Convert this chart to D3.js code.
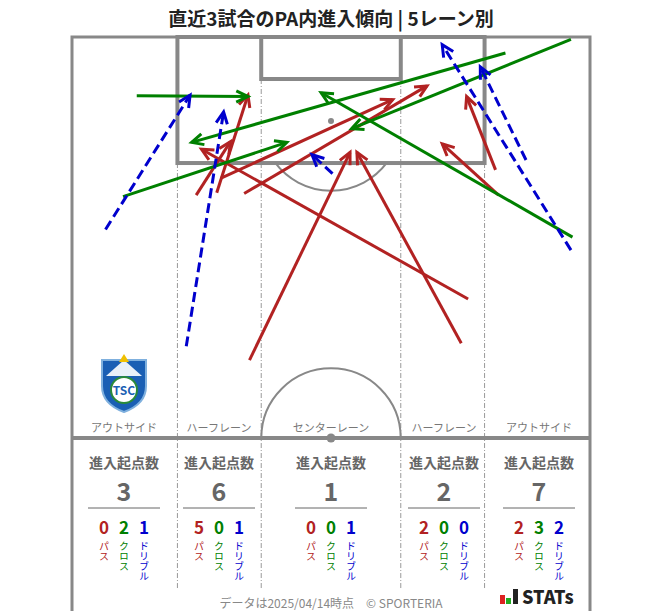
<!DOCTYPE html>
<html><head><meta charset="utf-8">
<script src="https://cdn.jsdelivr.net/npm/d3@7"></script>
<style>body{margin:0;background:#fff}text{font-family:"Noto Sans CJK JP","Noto Sans",sans-serif}</style>
</head><body><svg id="chart" width="663" height="611"></svg>
<script>
// pitch coords in metres: x across (0-68), y from goal line (0-52.5)
var lanes = ['アウトサイド', 'ハーフレーン', 'センターレーン', 'ハーフレーン', 'アウトサイド'];
var laneTotals = [3, 6, 1, 2, 7];
var passCounts = [0, 5, 0, 2, 2];
var crossCounts = [2, 0, 0, 0, 3];
var dribbleCounts = [1, 1, 1, 0, 2];

var passes = [
    [16.3, 20.7, 20.8, 13.7], [19.0, 20.4, 23.1, 7.6], [19.5, 18.5, 42.1, 8.2],
    [22.6, 20.5, 46.6, 6.4], [52.0, 34.3, 17.0, 14.7], [23.3, 42.3, 36.5, 15.1],
    [51.1, 40.1, 37.4, 15.1], [56.0, 20.7, 48.6, 14.0], [55.6, 17.4, 51.8, 7.8]
];
var crosses = [
    [8.5, 7.7, 23.1, 7.8], [56.9, 2.1, 15.7, 13.8], [6.7, 20.9, 28.2, 13.8],
    [65.5, 0.3, 36.7, 12.0], [65.7, 26.2, 32.7, 7.3]
];
var dribbles = [
    [4.4, 25.2, 15.5, 7.6], [15.0, 40.5, 19.9, 9.8], [34.2, 17.9, 31.5, 15.4],
    [59.6, 16.1, 53.6, 3.9], [65.5, 27.9, 48.6, 1.0]
];

var svg = d3.select('#chart');
var x = d3.scaleLinear().domain([0, 68]).range([72, 590]),
    y = d3.scaleLinear().domain([0, 52.5]).range([37, 438]),
    k = x(1) - x(0);

var laneEdges = [0, 13.84, 24.84, 43.16, 54.16, 68],
    laneMid = [124, 219, 331, 444, 539];

svg.append('text').attr('x', 331).attr('y', 26).attr('text-anchor', 'middle')
    .style('font-size', '19px').style('font-weight', 'bold').attr('fill', '#222')
    .text('直近3試合のPA内進入傾向 | 5レーン別');

var g = svg.append('g');
// lane dividers
laneEdges.slice(1, 5).forEach(function(d) {
    g.append('line').attr('x1', x(d)).attr('x2', x(d)).attr('y1', y(16.5)).attr('y2', 590)
        .attr('stroke', '#999').attr('stroke-width', 1).attr('stroke-dasharray', '5,2,1,2');
});
[24.84, 43.16].forEach(function(d) {
    g.append('line').attr('x1', x(d)).attr('x2', x(d)).attr('y1', y(5.5)).attr('y2', y(16.5))
        .attr('stroke', '#999').attr('stroke-dasharray', '5,2,1,2');
});

var pitchCol = '#888';
g.append('path').attr('d', 'M' + x(0) + ',611V' + y(0) + 'H' + x(68) + 'V611')
    .attr('fill', 'none').attr('stroke', pitchCol).attr('stroke-width', 3);
g.append('rect').attr('x', x(13.84)).attr('y', y(0)).attr('width', x(54.16) - x(13.84)).attr('height', y(16.5) - y(0))
    .attr('fill', 'none').attr('stroke', pitchCol).attr('stroke-width', 4);
g.append('rect').attr('x', x(24.84)).attr('y', y(0)).attr('width', x(43.16) - x(24.84)).attr('height', y(5.5) - y(0))
    .attr('fill', 'none').attr('stroke', pitchCol).attr('stroke-width', 4);
g.append('circle').attr('cx', x(34)).attr('cy', y(11)).attr('r', 3).attr('fill', pitchCol);
var ang = Math.acos(5.5 / 9.15);
g.append('path').attr('d', d3.arc()({innerRadius: 9.15 * k, outerRadius: 9.15 * k, startAngle: Math.PI - ang, endAngle: Math.PI + ang}))
    .attr('transform', 'translate(' + x(34) + ',' + y(11) + ')').attr('fill', 'none').attr('stroke', pitchCol).attr('stroke-width', 2);
g.append('path').attr('d', d3.arc()({innerRadius: 9.15 * k, outerRadius: 9.15 * k, startAngle: -Math.PI / 2, endAngle: Math.PI / 2}))
    .attr('transform', 'translate(' + x(34) + ',' + y(52.5) + ')').attr('fill', 'none').attr('stroke', pitchCol).attr('stroke-width', 2);
g.append('line').attr('x1', x(0)).attr('x2', x(68)).attr('y1', y(52.5)).attr('y2', y(52.5))
    .attr('stroke', pitchCol).attr('stroke-width', 4);
g.append('circle').attr('cx', x(34)).attr('cy', y(52.5)).attr('r', 4.5).attr('fill', pitchCol);

// arrows
function drawArrows(data, color, dash) {
    data.forEach(function(d) {
        var x1 = x(d[0]), y1 = y(d[1]), x2 = x(d[2]), y2 = y(d[3]);
        var a = Math.atan2(y2 - y1, x2 - x1), h = 13, s = 0.45;
        g.append('line').attr('x1', x1).attr('y1', y1).attr('x2', x2).attr('y2', y2)
            .attr('stroke', color).attr('stroke-width', 3).attr('stroke-dasharray', dash);
        g.append('path')
            .attr('d', 'M' + (x2 - h * Math.cos(a - s)) + ',' + (y2 - h * Math.sin(a - s)) + 'L' + x2 + ',' + y2 +
                'L' + (x2 - h * Math.cos(a + s)) + ',' + (y2 - h * Math.sin(a + s)))
            .attr('fill', 'none').attr('stroke', color).attr('stroke-width', 3);
    });
}
drawArrows(passes, '#b22222', null);
drawArrows(crosses, '#008000', null);
drawArrows(dribbles, '#0000cd', '10,5');

// team emblem
var em = svg.append('g').attr('transform', 'translate(124,384)');
em.append('path').attr('d', 'M-22,-24H22V2Q22,20 0,28Q-22,20 -22,2Z').attr('fill', '#1a5fb4').attr('stroke', '#7fb0de').attr('stroke-width', 2);
em.append('path').attr('d', 'M-18,-8L0,-24L18,-8Z').attr('fill', '#e8f0f8');
em.append('circle').attr('cx', 0).attr('cy', 6).attr('r', 13).attr('fill', '#fff').attr('stroke', '#2a8a3a').attr('stroke-width', 2);
em.append('text').attr('y', 11).attr('text-anchor', 'middle').style('font-size', '12px').style('font-weight', 'bold')
    .attr('fill', '#1a5fb4').text('TSC');
em.append('path').attr('d', 'M-5,-22L0,-30L5,-22Z').attr('fill', '#f0c000');

// lane labels + stats
lanes.forEach(function(name, i) {
    var cx = laneMid[i];
    svg.append('text').attr('x', cx).attr('y', 432).attr('text-anchor', 'middle')
        .style('font-size', '11px').attr('fill', '#777').text(name);
    svg.append('text').attr('x', cx).attr('y', 468).attr('text-anchor', 'middle')
        .style('font-size', '14px').style('font-weight', 'bold').attr('fill', '#666').text('進入起点数');
    svg.append('text').attr('x', cx).attr('y', 501).attr('text-anchor', 'middle')
        .style('font-size', '25px').style('font-weight', 'bold').attr('fill', '#666').text(laneTotals[i]);
    svg.append('line').attr('x1', cx - 36).attr('x2', cx + 36).attr('y1', 508).attr('y2', 508)
        .attr('stroke', '#666').attr('stroke-width', 1);
    [[passCounts, '#b22222', 'パス'], [crossCounts, '#008000', 'クロス'], [dribbleCounts, '#0000cd', 'ドリブル']]
        .forEach(function(c, j) {
            var sx = cx + (j - 1) * 20;
            svg.append('text').attr('x', sx).attr('y', 534).attr('text-anchor', 'middle')
                .style('font-size', '17px').style('font-weight', 'bold').attr('fill', c[1]).text(c[0][i]);
            svg.append('text').attr('x', sx).attr('y', 541).style('writing-mode', 'vertical-rl')
                .style('font-size', '10px').attr('fill', c[1]).attr('text-anchor', 'start').text(c[2]);
        });
});

svg.append('text').attr('x', 331).attr('y', 608).attr('text-anchor', 'middle')
    .style('font-size', '12px').attr('fill', '#888').text('データは2025/04/14時点　© SPORTERIA');
var lg = svg.append('g').attr('transform', 'translate(500,589)');
lg.append('rect').attr('x', 0).attr('y', 6).attr('width', 5).attr('height', 9).attr('fill', '#d22');
lg.append('rect').attr('x', 6).attr('y', 9).attr('width', 5).attr('height', 6).attr('fill', '#2a2');
lg.append('rect').attr('x', 13).attr('y', 0).attr('width', 5).attr('height', 15).attr('fill', '#222');
lg.append('text').attr('x', 22).attr('y', 15).style('font-size', '18px').style('font-weight', '900')
    .attr('fill', '#222').text('STATs');
</script></body></html>
